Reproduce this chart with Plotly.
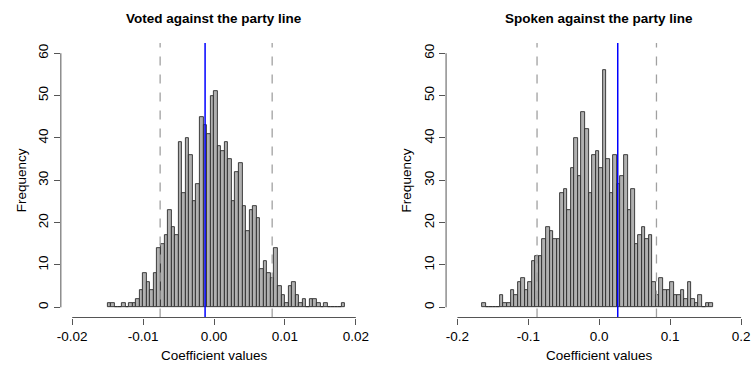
import numpy as np
import plotly.graph_objects as go

# ---------------- data ----------------
voted_bin_start = -0.015
voted_bin_width = 0.0005
voted_counts = [1, 1, 0, 0, 1, 0, 1, 1, 2, 4,
                8, 6, 4, 8, 14, 15, 17, 23, 19, 17,
                39, 27, 40, 36, 25, 29, 45, 43, 41, 50,
                51, 38, 37, 39, 35, 25, 32, 34, 24, 18,
                23, 24, 21, 9, 11, 8, 7, 14, 5, 3,
                1, 5, 6, 3, 1, 2, 0, 2, 2, 1,
                0, 1, 0, 0, 0, 0, 1]
voted_observed = -0.00126
voted_ci = [-0.0076, 0.0082]

spoken_bin_start = -0.165
spoken_bin_width = 0.005
spoken_counts = [1, 0, 0, 0, 0, 3, 1, 1, 4, 3,
                 6, 7, 4, 6, 11, 12, 12, 16, 19, 18,
                 16, 16, 27, 28, 23, 33, 40, 31, 46, 42,
                 27, 36, 37, 33, 56, 35, 27, 36, 29, 31,
                 36, 23, 28, 15, 17, 19, 16, 17, 6, 3,
                 7, 4, 4, 6, 3, 3, 4, 2, 6, 2,
                 1, 3, 0, 1, 1]
spoken_observed = 0.0261
spoken_ci = [-0.0877, 0.0807]

titles = ["Voted against the party line", "Spoken against the party line"]
x_label = "Coefficient values"
y_label = "Frequency"
voted_xticks = [-0.02, -0.01, 0.0, 0.01, 0.02]
voted_xticktext = ["-0.02", "-0.01", "0.00", "0.01", "0.02"]
spoken_xticks = [-0.2, -0.1, 0.0, 0.1, 0.2]
spoken_xticktext = ["-0.2", "-0.1", "0.0", "0.1", "0.2"]
y_ticks = [0, 10, 20, 30, 40, 50, 60]

# ---------------- figure ----------------
W, H = 756, 365
FONT = "Liberation Sans, Arial, Helvetica, sans-serif"
fig = go.Figure()

panels = [
    dict(start=voted_bin_start, width=voted_bin_width, counts=voted_counts,
         obs=voted_observed, ci=voted_ci, ticks=voted_xticks, ticktext=voted_xticktext,
         xr=[-0.0216, 0.0216], dom=[57.3 / W, 366.1 / W], xa="x", ya="y"),
    dict(start=spoken_bin_start, width=spoken_bin_width, counts=spoken_counts,
         obs=spoken_observed, ci=spoken_ci, ticks=spoken_xticks, ticktext=spoken_xticktext,
         xr=[-0.216, 0.216], dom=[445.6 / W, 754.4 / W], xa="x2", ya="y2"),
]

ydom = [(365 - 317.5) / H, (365 - 43.1) / H]
shapes = []
annotations = []

for i, p in enumerate(panels):
    counts = np.array(p["counts"])
    centers = p["start"] + p["width"] * (np.arange(len(counts)) + 0.5)
    fig.add_trace(go.Bar(
        x=centers, y=counts, width=p["width"],
        marker=dict(color="#B0B0B0", line=dict(color="#2b2b2b", width=0.9)),
        xaxis=p["xa"], yaxis=p["ya"], showlegend=False, hoverinfo="x+y"))
    xref = p["xa"]
    yref = p["ya"]
    # dashed CI lines
    for c in p["ci"]:
        shapes.append(dict(type="line", xref=xref, yref=f"{yref} domain", x0=c, x1=c, y0=0, y1=1,
                           line=dict(color="#a0a0a0", width=1.3, dash="dash")))
    # observed value
    shapes.append(dict(type="line", xref=xref, yref=f"{yref} domain", x0=p["obs"], x1=p["obs"], y0=0, y1=1,
                       line=dict(color="#0000FF", width=1.5)))
    # R-style axis lines
    shapes.append(dict(type="line", xref=xref, yref=f"{yref} domain", x0=p["ticks"][0], x1=p["ticks"][-1],
                       y0=0, y1=0, line=dict(color="#555555", width=1)))
    shapes.append(dict(type="line", xref=f"{xref} domain", yref=yref, x0=0, x1=0,
                       y0=y_ticks[0], y1=y_ticks[-1], line=dict(color="#555555", width=1)))
    cx = (p["dom"][0] + p["dom"][1]) / 2
    annotations.append(dict(text=f"<b>{titles[i]}</b>", xref="paper", yref="paper", x=cx, y=(365 - 18) / H,
                            showarrow=False, xanchor="center", yanchor="middle",
                            font=dict(size=13.5, color="black", family=FONT)))
    annotations.append(dict(text=x_label, xref="paper", yref="paper", x=cx, y=(365 - 355) / H,
                            showarrow=False, xanchor="center", yanchor="middle",
                            font=dict(size=13.5, color="black", family=FONT)))
    annotations.append(dict(text=y_label, xref="paper", yref="paper", x=(p["dom"][0] * W - 40) / W,
                            y=(365 - 180) / H, textangle=-90,
                            showarrow=False, xanchor="center", yanchor="middle",
                            font=dict(size=13.5, color="black", family=FONT)))

axis_common = dict(showgrid=False, zeroline=False, showline=False, ticks="outside",
                   ticklen=6, tickwidth=1, tickcolor="#555555",
                   tickfont=dict(size=13.5, color="black", family=FONT))

fig.update_layout(
    width=W, height=H,
    margin=dict(l=0, r=0, t=0, b=0),
    paper_bgcolor="white", plot_bgcolor="white",
    bargap=0,
    xaxis=dict(domain=panels[0]["dom"], range=panels[0]["xr"], anchor="y",
               tickmode="array", tickvals=panels[0]["ticks"], ticktext=panels[0]["ticktext"], **axis_common),
    yaxis=dict(domain=ydom, range=[-2.4, 62.4], anchor="x",
               tickmode="array", tickvals=y_ticks, tickangle=-90, **axis_common),
    xaxis2=dict(domain=panels[1]["dom"], range=panels[1]["xr"], anchor="y2",
                tickmode="array", tickvals=panels[1]["ticks"], ticktext=panels[1]["ticktext"], **axis_common),
    yaxis2=dict(domain=ydom, range=[-2.4, 62.4], anchor="x2",
                tickmode="array", tickvals=y_ticks, tickangle=-90, **axis_common),
    shapes=shapes,
    annotations=annotations,
)

fig.write_html("out.html", config={"displayModeBar": False},
               post_script="document.body.style.margin='0';document.body.style.overflow='hidden';")
